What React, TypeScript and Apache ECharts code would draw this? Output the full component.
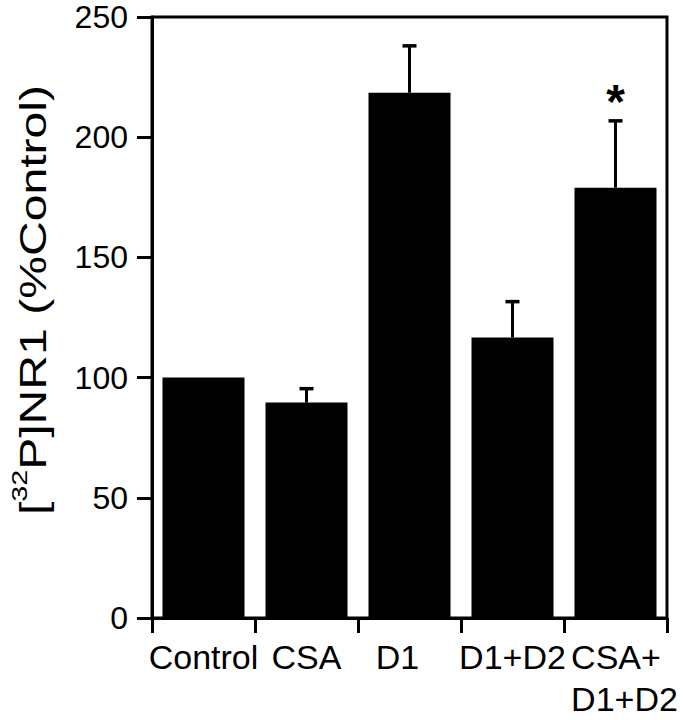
import React, { useEffect, useRef } from 'react';
import * as echarts from 'echarts';

const categories = ['Control', 'CSA', 'D1', 'D1+D2', 'CSA+\nD1+D2'];
const means = [100, 89.6, 218.5, 116.7, 179];
const errorTops: (number | null)[] = [null, 95.4, 238, 131.6, 206.8];
const significant = [false, false, false, false, true];
const yMin = 0;
const yMax = 250;
const yStep = 50;

const FONT = '"Liberation Sans", Arial, Helvetica, sans-serif';

export default function App() {
  const ref = useRef<HTMLDivElement>(null);
  useEffect(() => {
    const chart = echarts.init(ref.current!, null, { renderer: 'svg' });
    const errData = categories.map((c, i) => [
      i,
      means[i],
      errorTops[i] ?? means[i],
      significant[i] ? 1 : 0,
    ]);
    const xData = categories.map((c) =>
      c === 'D1' ? { value: c, textStyle: { padding: [0, 24, 0, 0] } } : c
    );
    chart.setOption({
      animation: false,
      grid: {
        left: 152,
        right: 16,
        top: 17,
        bottom: 97,
        show: true,
        borderColor: '#000',
        borderWidth: 3,
        backgroundColor: 'transparent',
      },
      graphic: [
        {
          type: 'text',
          x: 33,
          y: 300,
          rotation: Math.PI / 2,
          scaleX: 1.3,
          style: {
            text: '{n|[}{s|32}{n|P]NR1 (%Control)}',
            align: 'center',
            verticalAlign: 'middle',
            fill: '#000',
            rich: {
              n: { fontSize: 37, fontFamily: FONT, fill: '#000' },
              s: { fontSize: 22, fontFamily: FONT, fill: '#000', padding: [0, 0, 28, 0] },
            },
          },
        },
      ],
      xAxis: {
        type: 'category',
        data: xData,
        boundaryGap: true,
        axisLine: { lineStyle: { color: '#000', width: 3 } },
        axisTick: { show: true, length: 15, alignWithLabel: false, lineStyle: { color: '#000', width: 3 } },
        axisLabel: {
          color: '#000',
          fontSize: 34,
          fontFamily: FONT,
          margin: 18,
          lineHeight: 42,
          interval: 0,
          formatter: (v: string) =>
            v.includes('\n') ? v.split('\n').map((s) => `{l|${s}}`).join('\n') : v,
          rich: {
            l: {
              fontSize: 34,
              fontFamily: FONT,
              color: '#000',
              align: 'left',
              lineHeight: 42,
              padding: [0, 0, 0, 18],
            },
          },
        },
      },
      yAxis: {
        type: 'value',
        min: yMin,
        max: yMax,
        interval: yStep,
        splitLine: { show: false },
        axisLine: { show: true, lineStyle: { color: '#000', width: 3 } },
        axisTick: { show: true, length: 15, lineStyle: { color: '#000', width: 3 } },
        axisLabel: { color: '#000', fontSize: 32, fontFamily: FONT, margin: 24 },
      },
      series: [
        {
          type: 'bar',
          data: means,
          barWidth: 82,
          itemStyle: { color: '#000' },
        },
        {
          type: 'custom',
          data: errData,
          encode: { x: 0, y: [1, 2] },
          z: 3,
          renderItem: (params: any, api: any) => {
            const i = api.value(0);
            const v = api.value(1);
            const t = api.value(2);
            const sig = api.value(3);
            const base = api.coord([i, v]);
            const top = api.coord([i, t]);
            const children: any[] = [];
            if (t > v) {
              children.push({
                type: 'line',
                shape: { x1: base[0], y1: base[1], x2: top[0], y2: top[1] },
                style: { stroke: '#000', lineWidth: 3 },
              });
              children.push({
                type: 'line',
                shape: { x1: top[0] - 7, y1: top[1], x2: top[0] + 7, y2: top[1] },
                style: { stroke: '#000', lineWidth: 3.5 },
              });
            }
            if (sig) {
              children.push({
                type: 'text',
                x: top[0],
                y: top[1] - 19,
                style: {
                  text: '*',
                  fontSize: 48,
                  fontWeight: 'bold',
                  fontFamily: FONT,
                  align: 'center',
                  verticalAlign: 'middle',
                  fill: '#000',
                },
              });
            }
            return { type: 'group', children };
          },
        },
      ],
    });
    return () => chart.dispose();
  }, []);
  return (
    <div
      ref={ref}
      style={{ position: 'absolute', left: 0, top: 0, width: 683, height: 720, background: '#fff' }}
    />
  );
}
